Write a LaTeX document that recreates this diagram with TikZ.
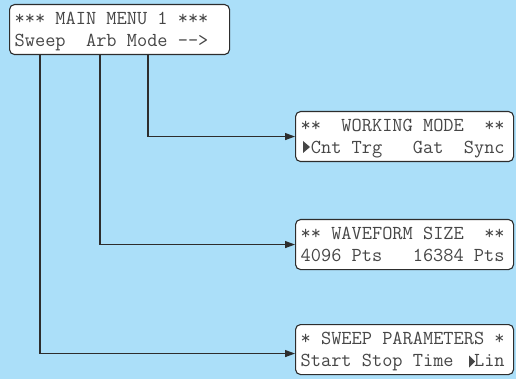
\documentclass[tikz,border=0pt]{standalone}
\usepackage{fontspec}
\usetikzlibrary{arrows.meta,calc}
\definecolor{bg}{RGB}{171,223,249}
\definecolor{ink}{RGB}{70,70,70}
\definecolor{lineink}{RGB}{45,45,45}
\begin{document}
\begin{tikzpicture}[x=1pt,y=-1pt,
  lcd/.style={draw=lineink, line width=1.1pt, fill=white, rounded corners=5pt,
    anchor=north west, minimum width=#1, minimum height=50pt, inner sep=0pt},
  row/.style={anchor=base west, inner sep=0pt, text=ink,
    font=\fontsize{19.8}{24}\selectfont\ttfamily},
  arr/.style={draw=lineink, line width=1.2pt, -{Triangle[length=10pt,width=7pt]}},
  tri/.style={fill=ink}]
\fill[bg] (0,0) rectangle (516,379);
\useasboundingbox (0,0) rectangle (516,379);
% boxes
\node[lcd=220pt] (main) at (9,4) {};
\node[lcd=218pt] (wm) at (295,111) {};
\node[lcd=218pt] (ws) at (295,219) {};
\node[lcd=218pt] (sp) at (295,324) {};
% text rows
\node[row] (m1) at (14.5,24.5) {***~MAIN~MENU~1~***};
\node[row] (m2) at (14.5,46.5) {Sweep~~Arb~Mode~-{}-{}>};
\node[row] (w1) at (300.5,131.5) {**~~WORKING~MODE~~**};
\node[row] (w2) at (300.5,153.5) {~Cnt~Trg~~~Gat~~Sync};
\node[row] (s1) at (300.5,239.5) {**~WAVEFORM~SIZE~~**};
\node[row] (s2) at (300.5,261.5) {4096~Pts~~~16384~Pts};
\node[row] (p1) at (300.5,344.5) {*~SWEEP~PARAMETERS~*};
\node[row] (p2) at (300.5,366.5) {Start~Stop~Time~~Lin};
% selection markers
\fill[tri] ([xshift=8pt,yshift=-30pt]wm.north west) -- ++(0,12) -- ++(7,-6) -- cycle;
\fill[tri] ([xshift=174pt,yshift=-31.5pt]sp.north west) -- ++(0,12) -- ++(6,-6) -- cycle;
% connectors
\draw[arr] ([xshift=139pt]main.south west) |- (wm.west);
\draw[arr] ([xshift=91pt]main.south west) |- (ws.west);
\draw[arr] ([xshift=31pt]main.south west) |- ([yshift=-4pt]sp.west);
\end{tikzpicture}
\end{document}
